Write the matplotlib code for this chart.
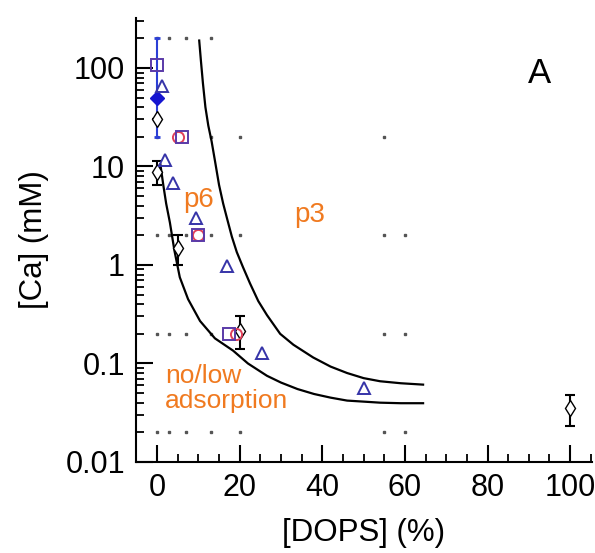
import numpy as np
import matplotlib.pyplot as plt

plt.rcParams['font.family'] = ['Liberation Sans', 'DejaVu Sans']

# sampled composition grid (grey dots)
grid_x = [0, 3, 7, 13, 0, 13, 20, 55, 0, 3, 7, 13, 20, 55, 60,
          0, 3, 7, 13, 20, 55, 60, 0, 3, 7, 13, 20, 55, 60]
grid_y = [200, 200, 200, 200, 20, 20, 20, 20, 2, 2, 2, 2, 2, 2, 2,
          0.2, 0.2, 0.2, 0.2, 0.2, 0.2, 0.2, 0.02, 0.02, 0.02, 0.02, 0.02, 0.02, 0.02]

# triangles
tri_x = [1.2, 2, 3.9, 9.4, 17, 25.4, 50]
tri_y = [66, 11.6, 6.8, 3.0, 0.98, 0.128, 0.056]

# squares (with red circles)
sq_x = [0, 6, 10, 17.5]
sq_y = [107, 20, 2, 0.2]
circ_x = [5, 10, 19]
circ_y = [20, 2, 0.2]

# blue filled diamond
bd_x = [0]
bd_y = [50]

# black open diamonds with error bars
dia_x = [0, 0, 5, 20, 100]
dia_y = [30, 8.8, 1.5, 0.215, 0.035]
dia_lo = [30, 6.5, 1.0, 0.14, 0.023]
dia_hi = [30, 11.5, 2.0, 0.30, 0.048]

# boundary curves
inner_x = [0.8, 1.5, 2.2, 3.1, 4.2, 5.5, 7.5, 10.4, 14, 18.4, 22, 26.6, 30, 34, 38, 42, 46, 50, 54, 59, 64.4]
inner_y = [10.5, 6.5, 4.2, 2.7, 1.4, 0.75, 0.45, 0.27, 0.18, 0.135, 0.1, 0.075, 0.064, 0.055, 0.049, 0.045, 0.042, 0.041, 0.040, 0.0395, 0.0395]
outer_x = [10.2, 10.6, 11.1, 11.7, 12.4, 13.2, 14.0, 15.0, 16.0, 17.0, 18.1, 19.3, 20.8, 22.5, 24.5, 26.6, 29.8, 33, 37.8, 42, 46, 50, 54, 59, 64.4]
outer_y = [190, 120, 70, 40, 26, 18, 11.5, 6.5, 4.2, 2.9, 1.94, 1.35, 0.95, 0.65, 0.43, 0.31, 0.2, 0.155, 0.115, 0.093, 0.08, 0.071, 0.066, 0.063, 0.061]

blue = '#2b3fd6'
navy = '#3634a8'
purple = '#5a3aa8'
red = '#e0405a'
orange = '#f07a20'

fig = plt.figure(figsize=(5.95, 5.53), dpi=100)
ax = fig.add_axes([0.2286, 0.1646, 0.7664, 0.8029])

ax.plot(grid_x, grid_y, 's', ms=2.1, color='#555555', mec='#555555', zorder=1)

ax.plot(inner_x, inner_y, '-', color='black', lw=1.6, zorder=2)
ax.plot(outer_x, outer_y, '-', color='black', lw=1.6, zorder=2)

# blue error bar on the square at 0%
ax.errorbar([0], [107], yerr=[[107 - 20], [200 - 107]], fmt='none', ecolor=blue,
            elinewidth=1.5, capsize=2, capthick=2, zorder=3)

yerr = [np.array(dia_y) - np.array(dia_lo), np.array(dia_hi) - np.array(dia_y)]
ax.errorbar(dia_x, dia_y, yerr=yerr, fmt='none', ecolor='black',
            elinewidth=1.5, capsize=3.5, capthick=1.5, zorder=3)
ax.plot(dia_x, dia_y, 'd', ms=8, mfc='white', mec='black', mew=1.0, zorder=4)

ax.plot(bd_x, bd_y, 'D', ms=7, color='#1515d0', zorder=5)

ax.plot(circ_x, circ_y, 'o', ms=8, mfc='none', mec=red, mew=1.4, zorder=4)
ax.plot(sq_x, sq_y, 's', ms=9, mfc='none', mec=purple, mew=1.4, zorder=5)
ax.plot(tri_x, tri_y, '^', ms=9, mfc='none', mec=navy, mew=1.4, zorder=5)

ax.text(10, 4.6, 'p6', color=orange, fontsize=20, ha='center', va='center')
ax.text(37, 3.2, 'p3', color=orange, fontsize=20, ha='center', va='center')
ax.text(2, 0.056, 'no/low\nadsorption', color=orange, fontsize=19, ha='left',
        va='center', linespacing=1.05)
ax.text(0.885, 0.875, 'A', transform=ax.transAxes, fontsize=25, ha='center', va='center')

ax.set_yscale('log')
ax.set_xlim(-5.1, 105.3)
ax.set_ylim(0.01, 322)

ax.set_xticks([0, 20, 40, 60, 80, 100])
ax.set_xticks(np.arange(-5, 106, 5), minor=True)
ax.set_yticks([0.01, 0.1, 1, 10, 100])
ax.set_yticklabels(['0.01', '0.1', '1', '10', '100'])

for s in ['top', 'right']:
    ax.spines[s].set_visible(False)
for s in ['left', 'bottom']:
    ax.spines[s].set_linewidth(1.5)

ax.tick_params(which='major', direction='in', length=12, width=1.5, labelsize=22, pad=8)
ax.tick_params(which='minor', direction='in', length=6, width=1.3)

ax.set_xlabel('[DOPS] (%)', fontsize=22.5, labelpad=11)
ax.set_ylabel('[Ca] (mM)', fontsize=22.5, labelpad=12)

fig.savefig('out.png', dpi=100)
